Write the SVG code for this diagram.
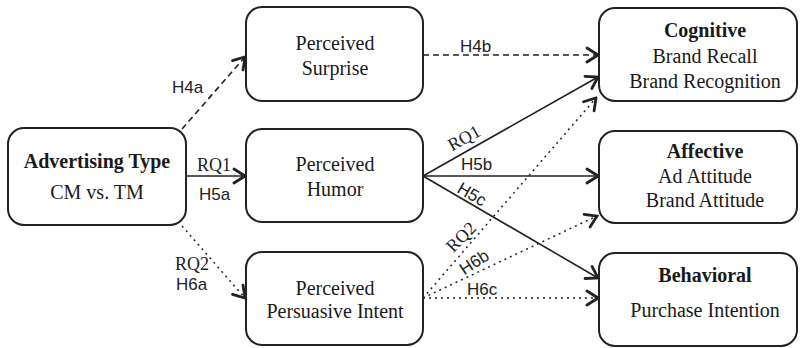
<svg xmlns="http://www.w3.org/2000/svg" width="800" height="348" viewBox="0 0 800 348">
<style>
.box{fill:#fff;stroke:#222;stroke-width:2}
.t{font-family:"Liberation Serif","Times New Roman",serif;font-size:20px;fill:#1a1a1a;text-anchor:middle}
.b{font-weight:bold}
.lab{font-family:"Liberation Sans",Arial,sans-serif;font-size:17px;fill:#222}
.rq{font-family:"Liberation Serif","Times New Roman",serif;font-size:18px;fill:#222}
.c{fill:none;stroke:#222;stroke-width:1.6}
.dash{stroke-dasharray:6 4}
.dot{stroke-dasharray:2 4;stroke-width:1.5}
</style>
<defs>
<marker id="ah" viewBox="-13 -9 15 18" markerWidth="15" markerHeight="18" refX="0" refY="0" orient="auto" markerUnits="userSpaceOnUse">
<path d="M-11,-7 L0,0 L-11,7" fill="none" stroke="#222" stroke-width="2.8" stroke-linecap="round" stroke-linejoin="miter"/>
</marker>
</defs>
<rect width="800" height="348" fill="#fff"/>
<g id="connectors">
<path class="c dash" d="M182,129 L245,57" marker-end="url(#ah)"/>
<path class="c" d="M186,176 L245,176" marker-end="url(#ah)"/>
<path class="c dot" d="M182,226 L245,298" marker-end="url(#ah)"/>
<path class="c dash" d="M423,55 L598,55" marker-end="url(#ah)"/>
<path class="c" d="M423,176 L598,77" marker-end="url(#ah)"/>
<path class="c" d="M423,176 L598,176" marker-end="url(#ah)"/>
<path class="c" d="M423,176 L598,278" marker-end="url(#ah)"/>
<path class="c dot" d="M423,298 L596,98" marker-end="url(#ah)"/>
<path class="c dot" d="M423,298 L597,216" marker-end="url(#ah)"/>
<path class="c dot" d="M423,298 L598,298" marker-end="url(#ah)"/>
<text class="lab" x="172" y="93">H4a</text>
<text class="rq" x="197" y="171">RQ1</text>
<text class="lab" x="199" y="200">H5a</text>
<text class="rq" x="175" y="270">RQ2</text>
<text class="lab" x="176" y="290">H6a</text>
<text class="lab" x="460" y="52">H4b</text>
<text class="rq" text-anchor="middle" transform="translate(464,138) rotate(-29)" y="6">RQ1</text>
<text class="lab" x="461" y="170">H5b</text>
<text class="lab" text-anchor="middle" transform="translate(472,194) rotate(30)" y="6">H5c</text>
<text class="rq" text-anchor="middle" transform="translate(461,237) rotate(-45)" y="6">RQ2</text>
<text class="lab" text-anchor="middle" transform="translate(474,262) rotate(-33)" y="6">H6b</text>
<text class="lab" x="467" y="295">H6c</text>
</g>
<g id="advertising-type">
<rect class="box" x="8" y="128" width="178" height="97" rx="16"/>
<text class="t b" x="97" y="168">Advertising Type</text>
<text class="t" x="97" y="199">CM vs. TM</text>
</g>
<g id="perceived-surprise">
<rect class="box" x="246" y="7" width="177" height="94" rx="16"/>
<text class="t" x="335" y="50">Perceived</text>
<text class="t" x="335" y="75">Surprise</text>
</g>
<g id="perceived-humor">
<rect class="box" x="246" y="129" width="177" height="93" rx="16"/>
<text class="t" x="335" y="171">Perceived</text>
<text class="t" x="335" y="196">Humor</text>
</g>
<g id="perceived-persuasive-intent">
<rect class="box" x="246" y="252" width="177" height="93" rx="16"/>
<text class="t" x="335" y="295">Perceived</text>
<text class="t" x="335" y="318">Persuasive Intent</text>
</g>
<g id="cognitive">
<rect class="box" x="599" y="8" width="198" height="93" rx="16"/>
<text class="t b" x="705" y="37">Cognitive</text>
<text class="t" x="705" y="63">Brand Recall</text>
<text class="t" x="705" y="88">Brand Recognition</text>
</g>
<g id="affective">
<rect class="box" x="599" y="131" width="198" height="92" rx="16"/>
<text class="t b" x="705" y="158">Affective</text>
<text class="t" x="705" y="183">Ad Attitude</text>
<text class="t" x="705" y="207">Brand Attitude</text>
</g>
<g id="behavioral">
<rect class="box" x="599" y="253" width="198" height="93" rx="16"/>
<text class="t b" x="705" y="282">Behavioral</text>
<text class="t" x="705" y="317">Purchase Intention</text>
</g>
</svg>
